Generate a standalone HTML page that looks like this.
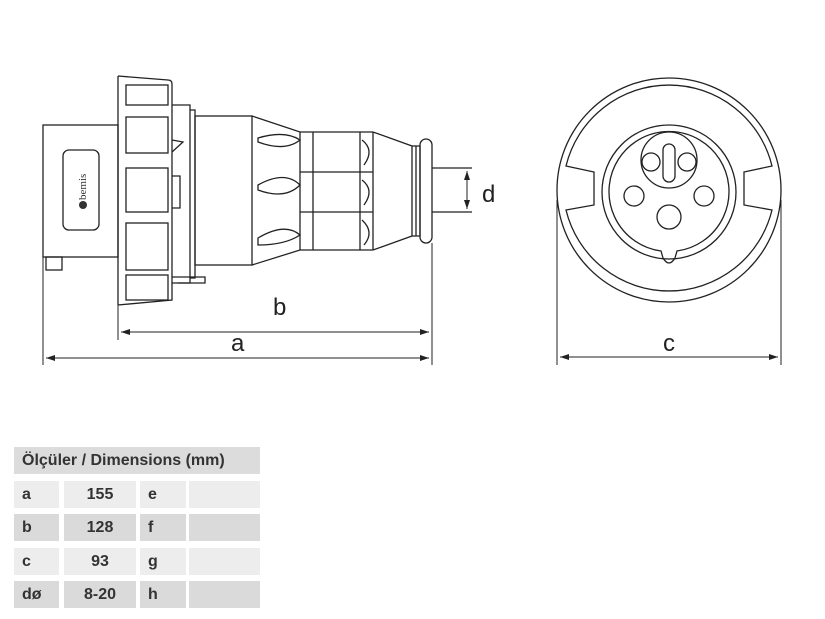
<!DOCTYPE html>
<html><head><meta charset="utf-8"><style>
body{margin:0;background:#fff;width:825px;height:619px;overflow:hidden;font-family:"Liberation Sans",sans-serif}
.c{position:absolute;height:27px;line-height:27px;font-size:16px;font-weight:bold;color:#333;box-sizing:border-box;padding-left:8px}
</style></head><body>
<svg width="825" height="619" style="position:absolute;left:0;top:0" fill="none" stroke="#222" stroke-width="1.3">
<defs><marker id="ar" markerWidth="10" markerHeight="8" refX="9" refY="4" orient="auto-start-reverse"><path d="M0,1 L9,4 L0,7 z" fill="#222" stroke="none"/></marker></defs>
<!-- left view -->
<rect x="43" y="125" width="75" height="132"/>
<rect x="63" y="150" width="36" height="80" rx="6"/>
<text x="0" y="0" transform="translate(86,200) rotate(-90)" font-size="11" fill="#333" stroke="none" font-family="Liberation Serif">bemis</text>
<circle cx="83" cy="205" r="4" fill="#333" stroke="none"/>
<rect x="46" y="257" width="16" height="13"/>
<path d="M118,76 L118,305 M118,76 L168,80 Q172,80 172,84 L172,300 L118,305"/>
<rect x="126" y="85" width="42" height="20"/><rect x="126" y="117" width="42" height="36"/>
<rect x="126" y="168" width="42" height="44"/><rect x="126" y="223" width="42" height="47"/>
<rect x="126" y="275" width="42" height="25"/>
<path d="M172,105 L190,105 L190,283 L172,283 M190,110 L195,110 L195,278 L190,278"/>
<path d="M172,140 L183,142 L172,152 M172,176 L180,176 L180,208 L172,208"/>
<path d="M172,277 L205,277 L205,283 L178,283"/>
<rect x="195" y="116" width="57" height="149"/>
<path d="M252,116 L300,132 L373,132 L412,146 L412,236 L373,250 L300,250 L252,265"/>
<path d="M300,132 L300,250 M313,132 L313,250 M360,132 L360,250 M373,132 L373,250 M300,172 L373,172 M300,212 L373,212"/>
<path d="M258,138 Q285,130 300,140 Q285,152 258,142 Z M258,185 Q285,170 300,185 Q285,200 258,190 Z M258,238 Q285,222 300,235 Q285,245 258,245 Z"/>
<path d="M362,140 Q375,150 364,165 M362,180 Q375,190 364,205 M362,220 Q375,232 364,245"/>
<path d="M412,146 L420,146 L420,236 L412,236 M416,146 L416,236"/>
<rect x="420" y="139" width="12" height="104" rx="6"/>
<path d="M432,168 L472,168 M432,212 L472,212"/>
<line x1="467" y1="171" x2="467" y2="209" marker-start="url(#ar)" marker-end="url(#ar)" stroke-width="1"/>
<path d="M43,257 L43,365 M118,305 L118,340 M432,243 L432,365" stroke-width="1"/>
<line x1="121" y1="332" x2="429" y2="332" marker-start="url(#ar)" marker-end="url(#ar)" stroke-width="1"/>
<line x1="46" y1="358" x2="429" y2="358" marker-start="url(#ar)" marker-end="url(#ar)" stroke-width="1"/>
<!-- right view -->
<circle cx="669" cy="190" r="112"/>
<path d="M566,166 A106,106 0 0 1 772,166 L744,172 L744,205 L772,210 A106,106 0 0 1 566,210 L594,205 L594,172 Z"/>
<circle cx="669" cy="192" r="67"/>
<path d="M677,251 A60,60 0 1 0 661,251 L663,258 Q669,268 675,258 Z"/>
<circle cx="669" cy="160" r="28"/>
<rect x="663" y="144" width="12" height="38" rx="6"/>
<circle cx="651" cy="162" r="9"/><circle cx="687" cy="162" r="9"/>
<circle cx="634" cy="196" r="10"/><circle cx="704" cy="196" r="10"/>
<circle cx="669" cy="217" r="12"/>
<path d="M557,200 L557,365 M781,200 L781,365" stroke-width="1"/>
<line x1="560" y1="357" x2="778" y2="357" marker-start="url(#ar)" marker-end="url(#ar)" stroke-width="1"/>
<g fill="#222" stroke="none" font-size="24" font-family="Liberation Sans"><text x="273" y="315">b</text><text x="231" y="351">a</text><text x="482" y="202">d</text><text x="663" y="351">c</text></g>
</svg>
<div class="c" style="left:14px;top:447px;width:246px;background:#dcdcdc">Ölçüler / Dimensions (mm)</div>
<div class="c" style="left:14px;top:481px;width:45px;background:#ededed">a</div><div class="c" style="left:64px;top:481px;width:72px;background:#ededed;text-align:center;padding:0">155</div><div class="c" style="left:140px;top:481px;width:46px;background:#ededed">e</div><div class="c" style="left:189px;top:481px;width:71px;background:#ededed"></div>
<div class="c" style="left:14px;top:514px;width:45px;background:#dadada">b</div><div class="c" style="left:64px;top:514px;width:72px;background:#dadada;text-align:center;padding:0">128</div><div class="c" style="left:140px;top:514px;width:46px;background:#dadada">f</div><div class="c" style="left:189px;top:514px;width:71px;background:#dadada"></div>
<div class="c" style="left:14px;top:548px;width:45px;background:#ededed">c</div><div class="c" style="left:64px;top:548px;width:72px;background:#ededed;text-align:center;padding:0">93</div><div class="c" style="left:140px;top:548px;width:46px;background:#ededed">g</div><div class="c" style="left:189px;top:548px;width:71px;background:#ededed"></div>
<div class="c" style="left:14px;top:581px;width:45px;background:#dadada">dø</div><div class="c" style="left:64px;top:581px;width:72px;background:#dadada;text-align:center;padding:0">8-20</div><div class="c" style="left:140px;top:581px;width:46px;background:#dadada">h</div><div class="c" style="left:189px;top:581px;width:71px;background:#dadada"></div>
</body></html>
